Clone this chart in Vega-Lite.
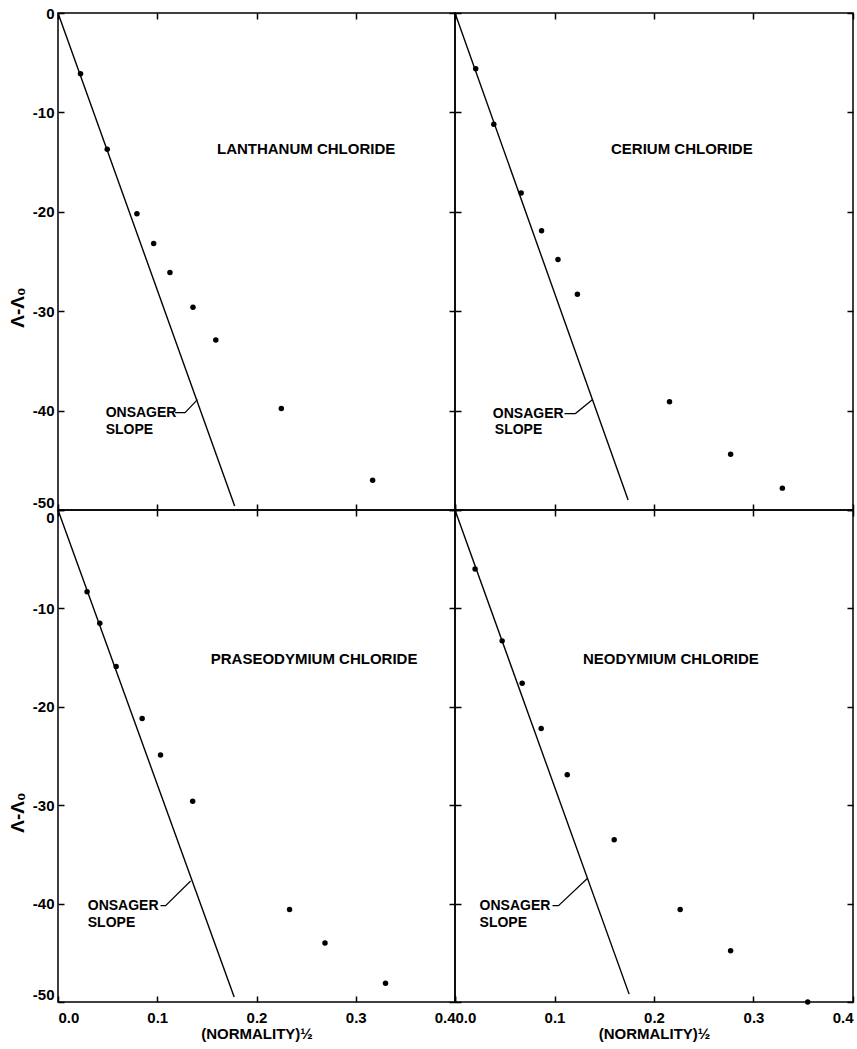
{
  "$schema": "https://vega.github.io/schema/vega-lite/v6.json",
  "background": "white",
  "padding": {"left": 7, "top": 5, "right": 2, "bottom": 2},
  "bounds": "flush",
  "spacing": 0,
  "columns": 2,
  "config": {
    "font": "Liberation Sans",
    "view": {"stroke": "black", "strokeWidth": 1.5},
    "axis": {"domain": false, "grid": false, "tickColor": "black", "tickWidth": 1.5, "tickSize": -6,
      "labelFont": "Liberation Sans", "labelFontWeight": "bold", "labelFontSize": 15, "labelColor": "black",
      "labelExpr": "replace(datum.label, '−', '-')",
      "titleFont": "Liberation Sans", "titleFontWeight": "bold", "titleFontSize": 15, "titleColor": "black"},
    "text": {"font": "Liberation Sans", "fontWeight": "bold", "color": "black"}
  },
  "datasets": {
    "points": [
      {"salt": "La", "x": 0.0227, "y": -6.1}, {"salt": "La", "x": 0.0496, "y": -13.7}, {"salt": "La", "x": 0.0795, "y": -20.2},
      {"salt": "La", "x": 0.0964, "y": -23.2}, {"salt": "La", "x": 0.1128, "y": -26.1}, {"salt": "La", "x": 0.136, "y": -29.6},
      {"salt": "La", "x": 0.159, "y": -32.9}, {"salt": "La", "x": 0.225, "y": -39.8}, {"salt": "La", "x": 0.317, "y": -47.0},
      {"salt": "Ce", "x": 0.0208, "y": -5.6}, {"salt": "Ce", "x": 0.039, "y": -11.2}, {"salt": "Ce", "x": 0.0665, "y": -18.1},
      {"salt": "Ce", "x": 0.087, "y": -21.9}, {"salt": "Ce", "x": 0.1035, "y": -24.8}, {"salt": "Ce", "x": 0.123, "y": -28.3},
      {"salt": "Ce", "x": 0.2156, "y": -39.1}, {"salt": "Ce", "x": 0.277, "y": -44.4}, {"salt": "Ce", "x": 0.329, "y": -47.8},
      {"salt": "Pr", "x": 0.0293, "y": -8.3}, {"salt": "Pr", "x": 0.0421, "y": -11.5}, {"salt": "Pr", "x": 0.0586, "y": -15.9},
      {"salt": "Pr", "x": 0.0848, "y": -21.2}, {"salt": "Pr", "x": 0.1033, "y": -24.9}, {"salt": "Pr", "x": 0.1357, "y": -29.6},
      {"salt": "Pr", "x": 0.2333, "y": -40.6}, {"salt": "Pr", "x": 0.269, "y": -44.0}, {"salt": "Pr", "x": 0.33, "y": -48.1},
      {"salt": "Nd", "x": 0.0202, "y": -6.0}, {"salt": "Nd", "x": 0.0474, "y": -13.3}, {"salt": "Nd", "x": 0.0675, "y": -17.6},
      {"salt": "Nd", "x": 0.0866, "y": -22.2}, {"salt": "Nd", "x": 0.1128, "y": -26.9}, {"salt": "Nd", "x": 0.16, "y": -33.5},
      {"salt": "Nd", "x": 0.2263, "y": -40.6}, {"salt": "Nd", "x": 0.277, "y": -44.8}, {"salt": "Nd", "x": 0.3545, "y": -50.0}
    ],
    "onsager": [
      {"salt": "La", "x": 0, "y": 0}, {"salt": "La", "x": 0.178, "y": -49.6},
      {"salt": "Ce", "x": 0, "y": 0}, {"salt": "Ce", "x": 0.174, "y": -49.0},
      {"salt": "Pr", "x": 0, "y": 0}, {"salt": "Pr", "x": 0.1775, "y": -49.5},
      {"salt": "Nd", "x": 0, "y": 0}, {"salt": "Nd", "x": 0.175, "y": -49.2}
    ],
    "leaders": [
      {"salt": "La", "ord": 1, "x": 0.118, "y": -40.2}, {"salt": "La", "ord": 2, "x": 0.128, "y": -40.2}, {"salt": "La", "ord": 3, "x": 0.1405, "y": -38.9},
      {"salt": "Ce", "ord": 1, "x": 0.110, "y": -40.3}, {"salt": "Ce", "ord": 2, "x": 0.121, "y": -40.3}, {"salt": "Ce", "ord": 3, "x": 0.138, "y": -38.9},
      {"salt": "Pr", "ord": 1, "x": 0.1033, "y": -40.2}, {"salt": "Pr", "ord": 2, "x": 0.1084, "y": -40.2}, {"salt": "Pr", "ord": 3, "x": 0.1336, "y": -37.7},
      {"salt": "Nd", "ord": 1, "x": 0.098, "y": -40.2}, {"salt": "Nd", "ord": 2, "x": 0.104, "y": -40.2}, {"salt": "Nd", "ord": 3, "x": 0.1335, "y": -37.4}
    ],
    "notes": [
      {"salt": "La", "kind": "title", "x": 0.25, "y": -13.7, "text": "LANTHANUM  CHLORIDE"},
      {"salt": "La", "kind": "label", "x": 0.048, "y": -40.2, "text": "ONSAGER"},
      {"salt": "La", "kind": "label", "x": 0.048, "y": -41.95, "text": "SLOPE"},
      {"salt": "Ce", "kind": "title", "x": 0.228, "y": -13.7, "text": "CERIUM  CHLORIDE"},
      {"salt": "Ce", "kind": "label", "x": 0.038, "y": -40.3, "text": "ONSAGER"},
      {"salt": "Ce", "kind": "label", "x": 0.040, "y": -42.0, "text": "SLOPE"},
      {"salt": "Pr", "kind": "title", "x": 0.258, "y": -15.1, "text": "PRASEODYMIUM  CHLORIDE"},
      {"salt": "Pr", "kind": "label", "x": 0.030, "y": -40.2, "text": "ONSAGER"},
      {"salt": "Pr", "kind": "label", "x": 0.030, "y": -42.0, "text": "SLOPE"},
      {"salt": "Nd", "kind": "title", "x": 0.217, "y": -15.1, "text": "NEODYMIUM  CHLORIDE"},
      {"salt": "Nd", "kind": "label", "x": 0.0247, "y": -40.2, "text": "ONSAGER"},
      {"salt": "Nd", "kind": "label", "x": 0.0247, "y": -42.0, "text": "SLOPE"}
    ]
  },
  "concat": [
      {"width": 397, "height": 497,
       "resolve": {"axis": {"x": "independent", "y": "independent"}},
       "layer": [
        {"data": {"name": "onsager"}, "transform": [{"filter": "datum.salt === 'La'"}],
         "mark": {"type": "line", "color": "black", "strokeWidth": 1.4},
         "encoding": {
          "x": {"field": "x", "type": "quantitative", "scale": {"domain": [0, 0.4], "nice": false, "zero": false},
                "axis": {"orient": "bottom", "values": [0, 0.1, 0.2, 0.3, 0.4], "labels": false, "title": null}},
          "y": {"field": "y", "type": "quantitative", "scale": {"domain": [-50, 0], "nice": false, "zero": false},
                "axis": {"orient": "left", "values": [0, -10, -20, -30, -40, -50], "title": "Λ-Λ₀", "titleX": -31, "titleY": 294, "titleFontSize": 19,
                         "labelFlush": false, "labelPadding": 10,
                         "labelBaseline": {"condition": {"test": "datum.value === -50", "value": "bottom"}, "value": "middle"}}}}},
        {"data": {"name": "points"}, "transform": [{"filter": "datum.salt === 'La'"}],
         "mark": {"type": "circle", "color": "black", "size": 30, "opacity": 1},
         "encoding": {"x": {"field": "x", "type": "quantitative", "axis": null}, "y": {"field": "y", "type": "quantitative", "axis": null}}},
        {"data": {"name": "leaders"}, "transform": [{"filter": "datum.salt === 'La'"}],
         "mark": {"type": "line", "color": "black", "strokeWidth": 1.2},
         "encoding": {"x": {"field": "x", "type": "quantitative", "axis": null}, "y": {"field": "y", "type": "quantitative", "axis": null}, "order": {"field": "ord", "type": "quantitative"}}},
        {"data": {"name": "notes"}, "transform": [{"filter": "datum.salt === 'La' && datum.kind === 'title'"}],
         "mark": {"type": "text", "align": "center", "baseline": "middle", "fontSize": 15, "fontWeight": "bold"},
         "encoding": {"x": {"field": "x", "type": "quantitative", "axis": null}, "y": {"field": "y", "type": "quantitative", "axis": null}, "text": {"field": "text"}}},
        {"data": {"name": "notes"}, "transform": [{"filter": "datum.salt === 'La' && datum.kind === 'label'"}],
         "mark": {"type": "text", "align": "left", "baseline": "middle", "fontSize": 14, "fontWeight": "bold"},
         "encoding": {"x": {"field": "x", "type": "quantitative", "axis": null}, "y": {"field": "y", "type": "quantitative", "axis": null}, "text": {"field": "text"}}},
        {"data": {"name": "points"}, "transform": [{"filter": "datum.salt === 'La'"}],
         "mark": {"type": "point", "opacity": 0},
         "encoding": {
          "x": {"field": "x", "type": "quantitative", "axis": {"orient": "top", "values": [0, 0.1, 0.2, 0.3, 0.4], "labels": false, "title": null}},
          "y": {"field": "y", "type": "quantitative", "axis": {"orient": "right", "values": [0, -10, -20, -30, -40, -50], "labels": false, "title": null}}}}
       ]},
      {"width": 398, "height": 497,
       "resolve": {"axis": {"x": "independent", "y": "independent"}},
       "layer": [
        {"data": {"name": "onsager"}, "transform": [{"filter": "datum.salt === 'Ce'"}],
         "mark": {"type": "line", "color": "black", "strokeWidth": 1.4},
         "encoding": {
          "x": {"field": "x", "type": "quantitative", "scale": {"domain": [0, 0.4], "nice": false, "zero": false},
                "axis": {"orient": "bottom", "values": [0, 0.1, 0.2, 0.3, 0.4], "labels": false, "title": null}},
          "y": {"field": "y", "type": "quantitative", "scale": {"domain": [-50, 0], "nice": false, "zero": false},
                "axis": {"orient": "left", "values": [0, -10, -20, -30, -40, -50], "labels": false, "title": null}}}},
        {"data": {"name": "points"}, "transform": [{"filter": "datum.salt === 'Ce'"}],
         "mark": {"type": "circle", "color": "black", "size": 30, "opacity": 1},
         "encoding": {"x": {"field": "x", "type": "quantitative", "axis": null}, "y": {"field": "y", "type": "quantitative", "axis": null}}},
        {"data": {"name": "leaders"}, "transform": [{"filter": "datum.salt === 'Ce'"}],
         "mark": {"type": "line", "color": "black", "strokeWidth": 1.2},
         "encoding": {"x": {"field": "x", "type": "quantitative", "axis": null}, "y": {"field": "y", "type": "quantitative", "axis": null}, "order": {"field": "ord", "type": "quantitative"}}},
        {"data": {"name": "notes"}, "transform": [{"filter": "datum.salt === 'Ce' && datum.kind === 'title'"}],
         "mark": {"type": "text", "align": "center", "baseline": "middle", "fontSize": 15, "fontWeight": "bold"},
         "encoding": {"x": {"field": "x", "type": "quantitative", "axis": null}, "y": {"field": "y", "type": "quantitative", "axis": null}, "text": {"field": "text"}}},
        {"data": {"name": "notes"}, "transform": [{"filter": "datum.salt === 'Ce' && datum.kind === 'label'"}],
         "mark": {"type": "text", "align": "left", "baseline": "middle", "fontSize": 14, "fontWeight": "bold"},
         "encoding": {"x": {"field": "x", "type": "quantitative", "axis": null}, "y": {"field": "y", "type": "quantitative", "axis": null}, "text": {"field": "text"}}},
        {"data": {"name": "points"}, "transform": [{"filter": "datum.salt === 'Ce'"}],
         "mark": {"type": "point", "opacity": 0},
         "encoding": {
          "x": {"field": "x", "type": "quantitative", "axis": {"orient": "top", "values": [0, 0.1, 0.2, 0.3, 0.4], "labels": false, "title": null}},
          "y": {"field": "y", "type": "quantitative", "axis": {"orient": "right", "values": [0, -10, -20, -30, -40, -50], "labels": false, "title": null}}}}
       ]},
      {"width": 397, "height": 492,
       "resolve": {"axis": {"x": "independent", "y": "independent"}},
       "layer": [
        {"data": {"name": "onsager"}, "transform": [{"filter": "datum.salt === 'Pr'"}],
         "mark": {"type": "line", "color": "black", "strokeWidth": 1.4},
         "encoding": {
          "x": {"field": "x", "type": "quantitative", "scale": {"domain": [0, 0.4], "nice": false, "zero": false},
                "axis": {"orient": "bottom", "values": [0, 0.1, 0.2, 0.3, 0.4], "format": ".1f", "labelFlush": true, "labelPadding": 14, "title": "(NORMALITY)½", "titlePadding": 1}},
          "y": {"field": "y", "type": "quantitative", "scale": {"domain": [-50, 0], "nice": false, "zero": false},
                "axis": {"orient": "left", "values": [0, -10, -20, -30, -40, -50], "title": "Λ-Λ₀", "titleX": -31, "titleY": 302, "titleFontSize": 19,
                         "labelFlush": true, "labelPadding": 10}}}},
        {"data": {"name": "points"}, "transform": [{"filter": "datum.salt === 'Pr'"}],
         "mark": {"type": "circle", "color": "black", "size": 30, "opacity": 1},
         "encoding": {"x": {"field": "x", "type": "quantitative", "axis": null}, "y": {"field": "y", "type": "quantitative", "axis": null}}},
        {"data": {"name": "leaders"}, "transform": [{"filter": "datum.salt === 'Pr'"}],
         "mark": {"type": "line", "color": "black", "strokeWidth": 1.2},
         "encoding": {"x": {"field": "x", "type": "quantitative", "axis": null}, "y": {"field": "y", "type": "quantitative", "axis": null}, "order": {"field": "ord", "type": "quantitative"}}},
        {"data": {"name": "notes"}, "transform": [{"filter": "datum.salt === 'Pr' && datum.kind === 'title'"}],
         "mark": {"type": "text", "align": "center", "baseline": "middle", "fontSize": 15, "fontWeight": "bold"},
         "encoding": {"x": {"field": "x", "type": "quantitative", "axis": null}, "y": {"field": "y", "type": "quantitative", "axis": null}, "text": {"field": "text"}}},
        {"data": {"name": "notes"}, "transform": [{"filter": "datum.salt === 'Pr' && datum.kind === 'label'"}],
         "mark": {"type": "text", "align": "left", "baseline": "middle", "fontSize": 14, "fontWeight": "bold"},
         "encoding": {"x": {"field": "x", "type": "quantitative", "axis": null}, "y": {"field": "y", "type": "quantitative", "axis": null}, "text": {"field": "text"}}},
        {"data": {"name": "points"}, "transform": [{"filter": "datum.salt === 'Pr'"}],
         "mark": {"type": "point", "opacity": 0},
         "encoding": {
          "x": {"field": "x", "type": "quantitative", "axis": {"orient": "top", "values": [0, 0.1, 0.2, 0.3, 0.4], "labels": false, "title": null}},
          "y": {"field": "y", "type": "quantitative", "axis": {"orient": "right", "values": [0, -10, -20, -30, -40, -50], "labels": false, "title": null}}}}
       ]},
      {"width": 398, "height": 492,
       "resolve": {"axis": {"x": "independent", "y": "independent"}},
       "layer": [
        {"data": {"name": "onsager"}, "transform": [{"filter": "datum.salt === 'Nd'"}],
         "mark": {"type": "line", "color": "black", "strokeWidth": 1.4},
         "encoding": {
          "x": {"field": "x", "type": "quantitative", "scale": {"domain": [0, 0.4], "nice": false, "zero": false},
                "axis": {"orient": "bottom", "values": [0, 0.1, 0.2, 0.3, 0.4], "format": ".1f", "labelFlush": true, "labelPadding": 14, "title": "(NORMALITY)½", "titlePadding": 1}},
          "y": {"field": "y", "type": "quantitative", "scale": {"domain": [-50, 0], "nice": false, "zero": false},
                "axis": {"orient": "left", "values": [0, -10, -20, -30, -40, -50], "labels": false, "title": null}}}},
        {"data": {"name": "points"}, "transform": [{"filter": "datum.salt === 'Nd'"}],
         "mark": {"type": "circle", "color": "black", "size": 30, "opacity": 1},
         "encoding": {"x": {"field": "x", "type": "quantitative", "axis": null}, "y": {"field": "y", "type": "quantitative", "axis": null}}},
        {"data": {"name": "leaders"}, "transform": [{"filter": "datum.salt === 'Nd'"}],
         "mark": {"type": "line", "color": "black", "strokeWidth": 1.2},
         "encoding": {"x": {"field": "x", "type": "quantitative", "axis": null}, "y": {"field": "y", "type": "quantitative", "axis": null}, "order": {"field": "ord", "type": "quantitative"}}},
        {"data": {"name": "notes"}, "transform": [{"filter": "datum.salt === 'Nd' && datum.kind === 'title'"}],
         "mark": {"type": "text", "align": "center", "baseline": "middle", "fontSize": 15, "fontWeight": "bold"},
         "encoding": {"x": {"field": "x", "type": "quantitative", "axis": null}, "y": {"field": "y", "type": "quantitative", "axis": null}, "text": {"field": "text"}}},
        {"data": {"name": "notes"}, "transform": [{"filter": "datum.salt === 'Nd' && datum.kind === 'label'"}],
         "mark": {"type": "text", "align": "left", "baseline": "middle", "fontSize": 14, "fontWeight": "bold"},
         "encoding": {"x": {"field": "x", "type": "quantitative", "axis": null}, "y": {"field": "y", "type": "quantitative", "axis": null}, "text": {"field": "text"}}},
        {"data": {"name": "points"}, "transform": [{"filter": "datum.salt === 'Nd'"}],
         "mark": {"type": "point", "opacity": 0},
         "encoding": {
          "x": {"field": "x", "type": "quantitative", "axis": {"orient": "top", "values": [0, 0.1, 0.2, 0.3, 0.4], "labels": false, "title": null}},
          "y": {"field": "y", "type": "quantitative", "axis": {"orient": "right", "values": [0, -10, -20, -30, -40, -50], "labels": false, "title": null}}}}
       ]}
  ]
}
